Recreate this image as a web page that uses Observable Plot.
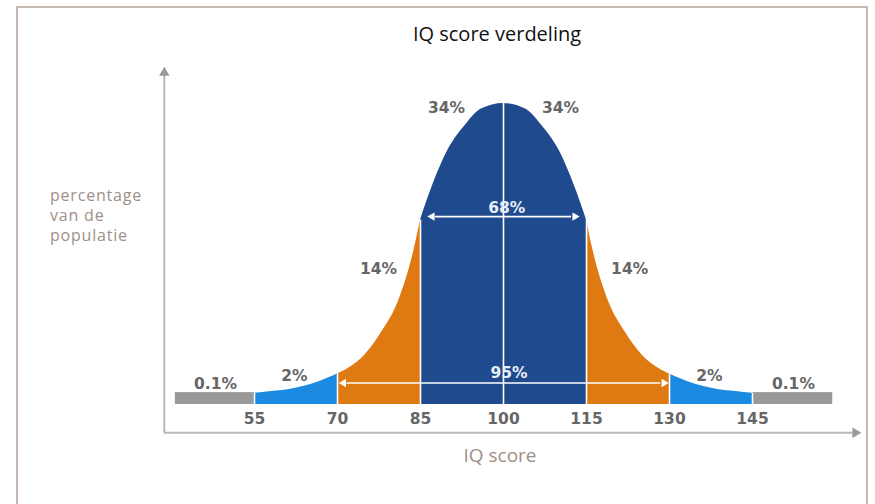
<!DOCTYPE html>
<html><head><meta charset="utf-8">
<script src="https://cdn.jsdelivr.net/npm/d3@7"></script>
<script src="https://cdn.jsdelivr.net/npm/@observablehq/plot@0.6"></script>
<style>
body{margin:0;background:#fff;overflow:hidden}
#wrap{position:relative;width:875px;height:504px;overflow:hidden;font-family:"Open Sans",sans-serif}
#frame{position:absolute;left:16px;top:6px;width:852px;height:560px;border:2px solid #c4b8b0;box-sizing:border-box}
#title{position:absolute;left:347px;width:300px;top:20px;text-align:center;font-size:20px;color:#111}
#ylab{position:absolute;left:50px;top:185px;font-size:16px;letter-spacing:0.8px;line-height:20px;color:#a08f86}
#xlab{position:absolute;left:400px;width:200px;top:442px;text-align:center;font-size:19px;color:#a08f86}
#chart{position:absolute;left:0;top:0}
</style></head>
<body><div id="wrap">
<div id="frame"></div>
<div id="chart"></div>
<div id="title">IQ score verdeling</div>
<div id="ylab">percentage<br>van de<br>populatie</div>
<div id="xlab">IQ score</div>
</div>
<script>
// IQ score along the curve and curve height (% of population per IQ point)
const curveIQ  = [55, 58, 62, 66, 70, 72, 75, 78, 81, 84, 85, 87, 90, 93, 96, 100, 104, 107, 110, 113, 115, 116, 119, 122, 125, 128, 130, 134, 138, 142, 145];
const curveVal = [0.10, 0.115, 0.14, 0.19, 0.27, 0.32, 0.44, 0.64, 0.91, 1.40, 1.63, 1.91, 2.25, 2.46, 2.61, 2.66, 2.61, 2.46, 2.25, 1.91, 1.63, 1.40, 0.91, 0.64, 0.44, 0.32, 0.27, 0.19, 0.14, 0.115, 0.10];
// bands of the distribution
const bandFrom  = [55, 70, 85, 115, 130];
const bandTo    = [70, 85, 115, 130, 145];
const bandColor = ["#1b8ae0", "#df7a12", "#1f4a8d", "#df7a12", "#1b8ae0"];
// flat tails beyond 55 and 145
const tailFrom = [40.7, 145];
const tailTo   = [55, 159.5];
const tailVal  = [0.105, 0.105];
// tick labels
const ticks = [55, 70, 85, 100, 115, 130, 145];
const dividers = [55, 70, 85, 100, 115, 130, 145];
// percentage labels
const pctText = ["34%", "34%", "68%", "14%", "14%", "95%", "2%", "2%", "0.1%", "0.1%"];
const pctX    = [89.7, 110.3, 100.6, 77.4, 122.8, 101, 62.2, 137.2, 47.95, 152.4];
const pctY    = [2.62, 2.62, 1.74, 1.20, 1.20, 0.28, 0.255, 0.255, 0.185, 0.18];
// range arrows (68% and 95%)
const rangeFrom = [86.5, 70.5];
const rangeTo   = [113.5, 129.6];
const rangeY    = [1.66, 0.19];
// axis extents
const axisXExtent = [38.7, 164.9];
const axisYExtent = [-0.25, 3.0];

const curve = curveIQ.map((x, i) => ({x, v: curveVal[i]}));
const valAt = x => curve.find(d => d.x === x).v;
const bands = [];
bandFrom.forEach((f, i) => {
  curve.filter(d => d.x >= f && d.x <= bandTo[i]).forEach(d => bands.push({...d, band: i, color: bandColor[i]}));
});
const tails = tailFrom.map((f, i) => ({x1: f, x2: tailTo[i], v: tailVal[i]}));
const pcts = pctText.map((t, i) => ({t, x: pctX[i], y: pctY[i], inside: t === "68%" || t === "95%"}));
const ranges = rangeFrom.map((f, i) => ({x1: f, x2: rangeTo[i], y: rangeY[i]}));
const heads = ranges.flatMap(r => [{x: r.x1, y: r.y, rot: -90}, {x: r.x2, y: r.y, rot: 90}]);

const font = "DejaVu Sans, Verdana, sans-serif";
const plot = Plot.plot({
  width: 875, height: 504,
  marginLeft: 171, marginRight: 40, marginTop: 64.4, marginBottom: 100,
  style: {background: "transparent", overflow: "visible"},
  x: {domain: [40, 160], axis: null},
  y: {domain: [0, 3], axis: null},
  marks: [
    // axes
    Plot.ruleY([axisYExtent[0]], {x1: axisXExtent[0], x2: axisXExtent[1] - 1.5, stroke: "#b9b9b9", strokeWidth: 2}),
    Plot.ruleX([axisXExtent[0]], {y1: axisYExtent[0], y2: axisYExtent[1] - 0.08, stroke: "#b9b9b9", strokeWidth: 2}),
    Plot.dot([{x: axisXExtent[1] - 1.3, y: axisYExtent[0]}], {x: "x", y: "y", symbol: "triangle2", r: 5, rotate: 90, fill: "#9a9a9a"}),
    Plot.dot([{x: axisXExtent[0], y: axisYExtent[1] - 0.07}], {x: "x", y: "y", symbol: "triangle2", r: 5, fill: "#9a9a9a"}),
    // tails
    Plot.rectY(tails, {x1: "x1", x2: "x2", y1: 0, y2: "v", fill: "#999999"}),
    // bands
    Plot.areaY(bands, {x: "x", y1: 0, y2: "v", z: "band", fill: "color", curve: "monotone-x"}),
    // white dividers
    Plot.ruleX(dividers, {x: d => d, y1: 0, y2: d => valAt(d), stroke: "white", strokeWidth: 1.6}),
    // range arrows
    Plot.ruleY(ranges, {y: "y", x1: d => d.x1 + 1.2, x2: d => d.x2 - 1.2, stroke: "white", strokeWidth: 1.6}),
    Plot.dot(heads, {x: d => d.x + (d.rot > 0 ? -0.6 : 0.6), y: "y", symbol: "triangle2", r: 4, rotate: "rot", fill: "white"}),
    // tick labels
    Plot.text(ticks, {x: d => d, y: 0, dy: 15, text: d => String(d), fontSize: 15.5, fontWeight: "bold", fill: "#666", fontFamily: font}),
    // percentage labels
    Plot.text(pcts, {x: "x", y: "y", text: "t", fontSize: 15.5, fontWeight: "bold", fill: d => d.inside ? "#e8eef7" : "#666", fontFamily: font})
  ]
});
document.getElementById("chart").appendChild(plot);
</script>
</body></html>
